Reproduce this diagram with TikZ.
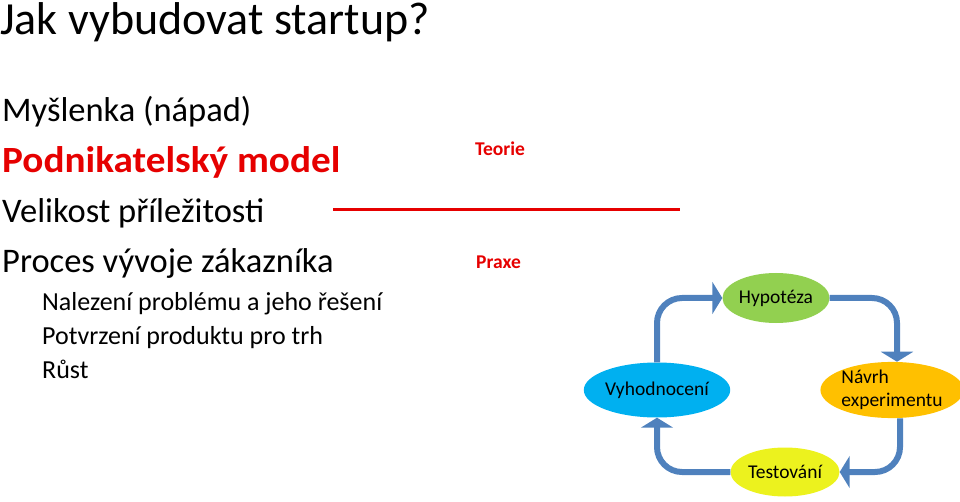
\documentclass[tikz,border=0pt]{standalone}
\usepackage{fontspec}
\setmainfont{Carlito}
\usetikzlibrary{shapes.geometric,arrows.meta}
\definecolor{redt}{RGB}{230,0,0}
\definecolor{flowc}{RGB}{79,129,189}
\definecolor{greenc}{RGB}{146,208,80}
\definecolor{bluec}{RGB}{0,176,240}
\definecolor{orangec}{RGB}{255,192,0}
\definecolor{yellowc}{RGB}{236,242,30}
\tikzset{
  txt/.style={anchor=base west, inner sep=0pt, text=black},
  big/.style={txt, font=\fontsize{34.5}{40}\selectfont},
  small/.style={txt, font=\fontsize{26}{30}\selectfont},
  lab/.style={txt, text=redt, font=\fontsize{19.5}{23}\selectfont\bfseries},
  cyc/.style={ellipse, inner sep=0pt, text=black, font=\fontsize{19.5}{23}\selectfont},
  flow/.style={draw=flowc, line width=6pt, rounded corners=25pt,
    -{Triangle[width=32pt,length=10pt]}}
}
\begin{document}
\begin{tikzpicture}[x=1pt,y=-1pt]
\useasboundingbox (0,0) rectangle (960,502);
\node[txt, font=\fontsize{46}{54}\selectfont] (title) at (0,35) {Jak vybudovat startup?};
\node[big] (t1) at (2,122) {Myšlenka (nápad)};
\node[txt, text=redt, font=\fontsize{37}{42}\selectfont\bfseries] (t2) at (2,173) {\scalebox{1.06}[1]{Podnikatelský model}};
\node[big] (t3) at (2,223) {Velikost příležitosti};
\node[big] (t4) at (2,273) {Proces vývoje zákazníka};
\node[small] (s1) at (42,310) {Nalezení problému a jeho řešení};
\node[small] (s2) at (42,344) {Potvrzení produktu pro trh};
\node[small] (s3) at (42,378) {Růst};
\node[lab] (teorie) at (475,156) {Teorie};
\node[lab] (praxe) at (476,269) {Praxe};
\coordinate (la) at (333,210);
\coordinate (lb) at (680,210);
\draw[redt, line width=3pt] (la) -- (lb);
\node[cyc, fill=greenc, minimum width=107pt, minimum height=50pt] (hyp) at (776,298) {Hypotéza};
\node[cyc, fill=bluec, minimum width=140pt, minimum height=55pt] (vyh) at (657,390) {Vyhodnocení};
\node[cyc, fill=orangec, minimum width=140pt, minimum height=55pt, align=left] (nav) at (892,390) {Návrh\\experimentu};
\node[cyc, fill=yellowc, minimum width=109pt, minimum height=49pt] (test) at (785,472) {Testování};
\draw[flow] (vyh.north) |- (hyp.west);
\draw[flow] (hyp.east) -| ([xshift=5pt]nav.north);
\draw[flow] ([xshift=8pt]nav.south) |- (test.east);
\draw[flow] (test.west) -| (vyh.south);
\end{tikzpicture}
\end{document}
